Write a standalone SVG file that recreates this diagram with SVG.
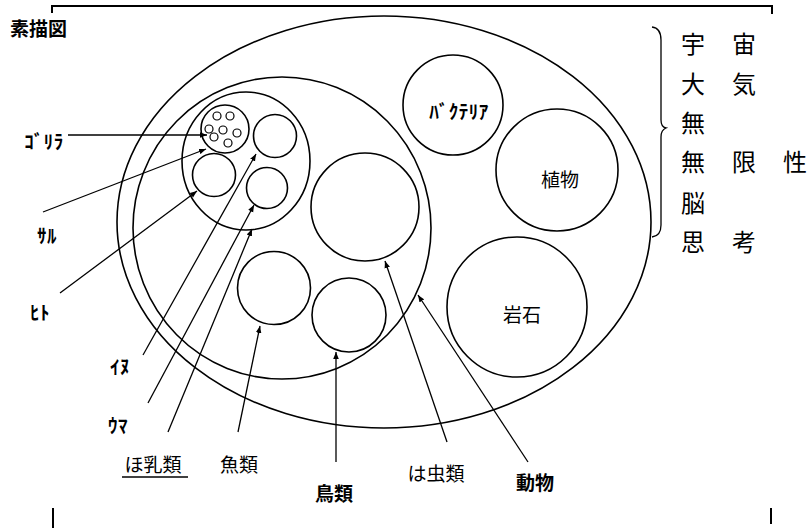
<svg xmlns="http://www.w3.org/2000/svg" width="812" height="529" viewBox="0 0 812 529">
<style>
.sh{fill:none;stroke:#000;stroke-width:1.6}
.dot{fill:none;stroke:#000;stroke-width:1.2}
.ln{fill:none;stroke:#000;stroke-width:1.3}
.fr{fill:none;stroke:#000;stroke-width:2}
text{font-family:"Noto Sans CJK JP","Noto Sans",sans-serif;fill:#000}
.l{font-size:19px;dominant-baseline:central;text-anchor:middle}
.k{font-size:19px;font-weight:bold;dominant-baseline:central;text-anchor:middle;letter-spacing:0.5px}
.b{font-weight:bold}
.c{font-size:24px;dominant-baseline:central;text-anchor:middle}
</style>
<defs>
<marker id="ah" viewBox="0 0 10 10" refX="10" refY="5" markerWidth="7" markerHeight="7" markerUnits="userSpaceOnUse" orient="auto"><path d="M0,1 L10,5 L0,9 Z" fill="#000"/></marker>
</defs>
<rect width="812" height="529" fill="#fff"/>
<g id="frame">
<path class="fr" d="M52,13 L52,6 L772,6 L772,14"/>
<path class="fr" d="M53,508 L53,528"/>
<path class="fr" d="M771,508 L771,524"/>
<path class="ln" d="M652,27 Q661,28 661,40 L661,120 Q661,127 666,128 Q661,130 661,137 L661,225 Q661,236 652,237"/>
</g>
<text x="10" y="27" class="b" style="font-size:19px;dominant-baseline:central">素描図</text>
<g id="universe"><ellipse class="sh" cx="384" cy="222" rx="267" ry="206"/></g>
<g id="animal"><ellipse class="sh" cx="282" cy="228" rx="149" ry="151"/></g>
<g id="mammal"><ellipse class="sh" cx="246" cy="161" rx="64" ry="69"/></g>
<g id="monkey">
<circle class="sh" cx="225" cy="129" r="24"/>
<circle class="dot" cx="217" cy="116" r="4"/>
<circle class="dot" cx="230" cy="116" r="4"/>
<circle class="dot" cx="209" cy="129" r="4"/>
<circle class="dot" cx="223" cy="130" r="4"/>
<circle class="dot" cx="237" cy="133" r="4"/>
<circle class="dot" cx="214" cy="137" r="4"/>
<circle class="dot" cx="228" cy="143" r="4"/>
</g>
<g id="dog"><circle class="sh" cx="275" cy="136" r="21.5"/></g>
<g id="human"><circle class="sh" cx="214" cy="175" r="21.5"/></g>
<g id="horse"><circle class="sh" cx="267" cy="188" r="20.5"/></g>
<g id="reptile"><circle class="sh" cx="365" cy="207" r="54"/></g>
<g id="fish"><circle class="sh" cx="274" cy="288" r="36.5"/></g>
<g id="bird"><circle class="sh" cx="349" cy="315" r="37"/></g>
<g id="bacteria"><circle class="sh" cx="453" cy="105" r="50"/><text class="k" x="459" y="110">ﾊﾞｸﾃﾘｱ</text></g>
<g id="plant"><circle class="sh" cx="557" cy="170" r="61"/><text class="l" x="560" y="178">植物</text></g>
<g id="rock"><circle class="sh" cx="517" cy="307" r="70"/><text class="l" x="522" y="313">岩石</text></g>
<g id="connectors">
<path class="ln" d="M68,135 L207,135" marker-end="url(#ah)"/>
<path class="ln" d="M43,212 L206,149" marker-end="url(#ah)"/>
<path class="ln" d="M60,293 L197,191" marker-end="url(#ah)"/>
<path class="ln" d="M143,355 L256,154" marker-end="url(#ah)"/>
<path class="ln" d="M148,403 L254,205" marker-end="url(#ah)"/>
<path class="ln" d="M168,432 L252,229" marker-end="url(#ah)"/>
<path class="ln" d="M238,432 L260,326" marker-end="url(#ah)"/>
<path class="ln" d="M336,462 L336,352" marker-end="url(#ah)"/>
<path class="ln" d="M447,442 L385,261" marker-end="url(#ah)"/>
<path class="ln" d="M528,462 L418,295" marker-end="url(#ah)"/>
</g>
<g id="labels">
<text class="k" x="44" y="140">ｺﾞﾘﾗ</text>
<text class="k" x="47" y="234">ｻﾙ</text>
<text class="k" x="40" y="311">ﾋﾄ</text>
<text class="k" x="120" y="365">ｲﾇ</text>
<text class="k" x="118" y="424">ｳﾏ</text>
<text class="l" x="153" y="463">ほ乳類</text>
<path class="ln" d="M122,477 L188,477"/>
<text class="l" x="239" y="463">魚類</text>
<text class="l b" x="334" y="492">鳥類</text>
<text class="l" x="436" y="472">は虫類</text>
<text class="l b" x="535" y="481">動物</text>
</g>
<g id="column">
<text class="c" x="693" y="42">宇</text><text class="c" x="744" y="42">宙</text>
<text class="c" x="693" y="82">大</text><text class="c" x="744" y="82">気</text>
<text class="c" x="693" y="121">無</text>
<text class="c" x="693" y="160">無</text><text class="c" x="744" y="160">限</text><text class="c" x="795" y="160">性</text>
<text class="c" x="693" y="201">脳</text>
<text class="c" x="693" y="240">思</text><text class="c" x="744" y="240">考</text>
</g>
</svg>
